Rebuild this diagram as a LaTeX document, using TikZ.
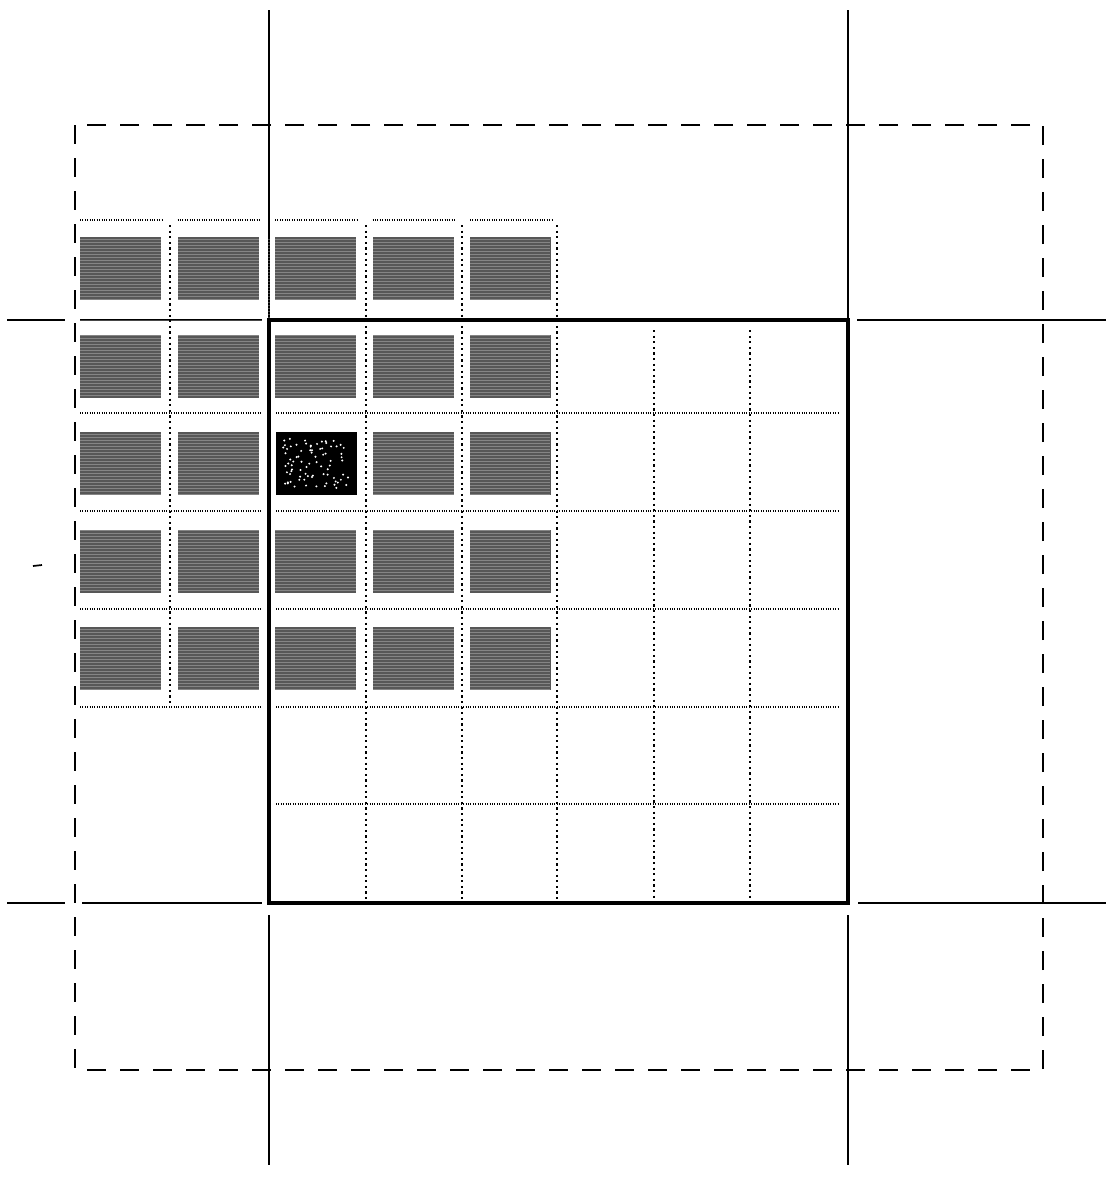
\documentclass[tikz,border=0pt]{standalone}
\begin{document}
\begin{tikzpicture}[x=1pt,y=-1pt,
  thinline/.style={line width=1.7pt},
  frame/.style={line width=3.8pt},
  dashframe/.style={line width=1.8pt, dash pattern=on 19pt off 14pt},
  dotrule/.style={line width=1.4pt, dash pattern=on 1pt off 1.4pt},
  dotcol/.style={line width=2.6pt, dash pattern=on 2.2pt off 3.4pt},
  cell/.style={fill=black!66},
  darkcell/.style={fill=black}]
\useasboundingbox[fill=white] (0,0) rectangle (1106,1194);

% dashed outer frame
\draw[dashframe] (75,125) rectangle (1043,1070);

% long solid lines
\draw[thinline] (269,10) -- (269,320);
\draw[thinline] (269,915) -- (269,1165);
\draw[thinline] (848,10) -- (848,320);
\draw[thinline] (848,915) -- (848,1165);
\draw[thinline] (7,320) -- (65,320);
\draw[thinline] (80,320) -- (262,320);
\draw[thinline] (857,320) -- (1106,320);
\draw[thinline] (7,903) -- (65,903);
\draw[thinline] (82,903) -- (262,903);
\draw[thinline] (858,903) -- (1106,903);
\draw[thinline] (33,566) -- (42,565);

% gray cells
\foreach \i in {0,...,4}{
  \foreach \j in {0,...,4}{
    \pgfmathsetmacro{\xa}{80+97.5*\i}
    \pgfmathsetmacro{\ya}{237+97.6*\j}
    \ifnum\i=2 \ifnum\j=2 \else
      \fill[cell] (\xa,\ya) rectangle ++(81,63);
      \fi
    \else
      \fill[cell] (\xa,\ya) rectangle ++(81,63);
    \fi
  }
  % top dotted segments
  \pgfmathsetmacro{\xa}{80+97.5*\i}
  \draw[dotrule] (\xa,220) -- ++(82,0);
}
% texture on gray cells
\foreach \yy in {239,242,...,690}{
  \draw[white,opacity=0.28,line width=0.5pt] (80,\yy) -- (550,\yy);
}
% black cell
\fill[darkcell] (276,432) rectangle (357,495);
\pgfmathsetseed{7}
\foreach \k in {1,...,80}{
  \pgfmathsetmacro{\px}{283+rnd*66}
  \pgfmathsetmacro{\py}{438+rnd*50}
  \fill[white] (\px,\py) circle (1.1pt);
}

% dotted horizontal rules
\foreach \yy in {413,511,609,707}{
  \draw[dotrule] (80,\yy) -- (262,\yy);
}
\foreach \yy in {413,511,609,707,804}{
  \draw[dotrule] (276,\yy) -- (838,\yy);
}
% dotted vertical rules
\draw[dotcol] (170,225) -- (170,705);
\foreach \xx in {366,462,557}{
  \draw[dotcol] (\xx,225) -- (\xx,900);
}
\foreach \xx in {654,750}{
  \draw[dotcol] (\xx,330) -- (\xx,900);
}

% thick frame
\draw[frame] (269,320) rectangle (848,903);
\end{tikzpicture}
\end{document}
